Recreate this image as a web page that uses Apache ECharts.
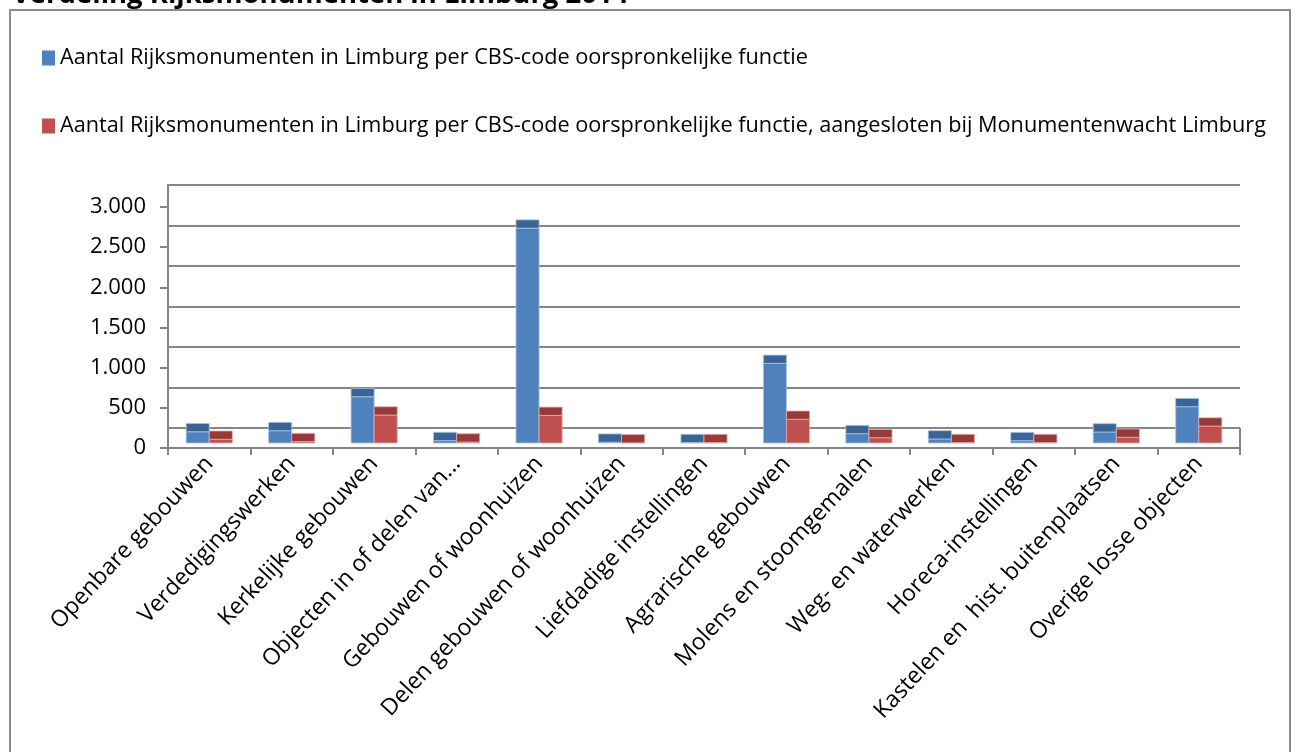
<!DOCTYPE html>
<html><head><meta charset="utf-8">
<script src="https://cdn.jsdelivr.net/npm/echarts@6/dist/echarts.min.js"></script>
<style>html,body{margin:0;padding:0;background:#fff}#c{width:1296px;height:752px}</style>
</head><body><div id="c"></div>
<script>
const titleText = 'Verdeling Rijksmonumenten in Limburg 2014';
const categories = [
  'Openbare gebouwen',
  'Verdedigingswerken',
  'Kerkelijke gebouwen',
  'Objecten in of delen van...',
  'Gebouwen of woonhuizen',
  'Delen gebouwen of woonhuizen',
  'Liefdadige instellingen',
  'Agrarische gebouwen',
  'Molens en stoomgemalen',
  'Weg- en waterwerken',
  'Horeca-instellingen',
  'Kastelen en  hist. buitenplaatsen',
  'Overige losse objecten'
];
const seriesNames = [
  'Aantal Rijksmonumenten in Limburg per CBS-code oorspronkelijke functie',
  'Aantal Rijksmonumenten in Limburg per CBS-code oorspronkelijke functie, aangesloten bij Monumentenwacht Limburg'
];
const totalValues = [140, 153, 576, 30, 2674, 10, 5, 991, 116, 50, 29, 137, 452];
const mwValues    = [46, 17, 348, 12, 344, 2, 5, 295, 66, 5, 5, 71, 211];
const yTickValues = [0, 500, 1000, 1500, 2000, 2500, 3000];
const yTickLabels = ['0', '500', '1.000', '1.500', '2.000', '2.500', '3.000'];

const FONT = '"Open Sans", Lato, sans-serif';
const GRID_COLOR = '#868686';

function makeRender(side, front, topCol, edge) {
  return function (params, api) {
    const i = api.value(0), v = api.value(1);
    const base = api.coord([i, 0]);
    const tp = api.coord([i, v]);
    const band = api.size([1, 0])[0];
    const w = band * 0.28;
    const x = side === 0 ? base[0] - w : base[0];
    const depth = 8.3;
    return {
      type: 'group',
      children: [
        { type: 'rect', shape: { x: x, y: tp[1], width: w, height: base[1] - tp[1] },
          style: { fill: front, stroke: edge, lineWidth: 1 } },
        { type: 'rect', shape: { x: x, y: tp[1] - depth, width: w, height: depth },
          style: { fill: topCol, stroke: edge, lineWidth: 1 } }
      ]
    };
  };
}

const chart = echarts.init(document.getElementById('c'));
chart.setOption({
  animation: false,
  backgroundColor: '#fff',
  graphic: [
    { type: 'rect', shape: { x: 10, y: 10, width: 1280, height: 780 },
      style: { fill: 'none', stroke: '#8c8c8c', lineWidth: 2 }, silent: true },
    { type: 'text', x: 12, y: -5, silent: true,
      style: { text: titleText, font: 'bold 27.5px ' + FONT, fill: '#000', verticalAlign: 'middle' } },
    { type: 'line', shape: { x1: 1240, y1: 428, x2: 1240, y2: 448 },
      style: { stroke: GRID_COLOR, lineWidth: 2 }, silent: true }
  ],
  legend: {
    orient: 'vertical', left: 42, top: 45, padding: 0,
    itemWidth: 13, itemHeight: 15, itemGap: 42,
    icon: 'rect',
    data: seriesNames,
    textStyle: { fontSize: 21.7, fontFamily: FONT, color: '#000', lineHeight: 26 }
  },
  grid: [
    { left: 168, width: 1072, top: 207, height: 241 },
    { left: 168, width: 1072, top: 185, height: 243 },
    { left: 168, width: 1072, top: 202, height: 241 }
  ],
  xAxis: [
    { type: 'category', gridIndex: 0, data: categories, boundaryGap: true,
      axisLine: { lineStyle: { color: GRID_COLOR, width: 2 } },
      axisTick: { show: true, interval: 0, length: 7, lineStyle: { color: GRID_COLOR, width: 2 } },
      axisLabel: { interval: 0, rotate: 47, margin: 12, fontSize: 23, fontFamily: FONT, color: '#000' },
      splitLine: { show: false } },
    { type: 'category', gridIndex: 1, data: categories, show: false },
    { type: 'category', gridIndex: 2, data: categories, show: false }
  ],
  yAxis: [
    { type: 'value', gridIndex: 0, min: 0, max: 3000, interval: 500,
      axisLine: { show: true, lineStyle: { color: GRID_COLOR, width: 2 } },
      axisTick: { show: true, length: 8, lineStyle: { color: GRID_COLOR, width: 2 } },
      axisLabel: { margin: 22, fontSize: 22, fontFamily: FONT, color: '#000',
        formatter: function (v) { const k = yTickValues.indexOf(v); return k >= 0 ? yTickLabels[k] : ''; } },
      splitLine: { show: false } },
    { type: 'value', gridIndex: 1, min: 0, max: 3000, interval: 500,
      axisLine: { show: true, lineStyle: { color: GRID_COLOR, width: 2 } },
      axisTick: { show: false }, axisLabel: { show: false },
      splitLine: { show: true, lineStyle: { color: GRID_COLOR, width: 2 } } },
    { type: 'value', gridIndex: 2, min: 0, max: 3000, show: false, splitLine: { show: false } }
  ],
  series: [
    { name: seriesNames[0], type: 'custom', xAxisIndex: 2, yAxisIndex: 2,
      itemStyle: { color: '#4F81BD' },
      renderItem: makeRender(0, '#4F81BD', '#3B6494', 'rgba(170,195,230,0.8)'),
      data: totalValues.map(function (v, i) { return [i, v]; }) },
    { name: seriesNames[1], type: 'custom', xAxisIndex: 2, yAxisIndex: 2,
      itemStyle: { color: '#C0504D' },
      renderItem: makeRender(1, '#C0504D', '#943A38', 'rgba(235,170,168,0.8)'),
      data: mwValues.map(function (v, i) { return [i, v]; }) }
  ]
});
</script></body></html>
